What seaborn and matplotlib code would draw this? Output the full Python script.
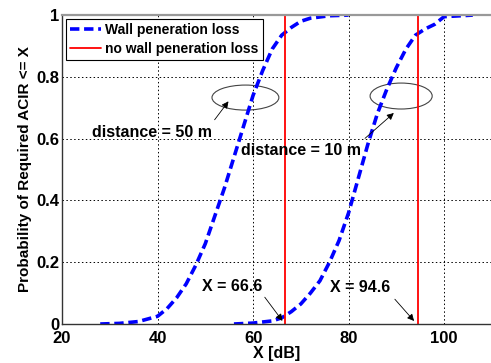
import matplotlib
matplotlib.use("Agg")
import matplotlib.pyplot as plt
import seaborn as sns
import pandas as pd
from matplotlib.patches import Ellipse

# CDF of required ACIR, distance = 50 m
x_50m = [28, 32, 36, 40, 42, 44, 46, 48, 50, 52, 54, 56, 58, 60, 62, 64, 66, 68, 70, 72, 76, 80]
p_50m = [0.0, 0.002, 0.008, 0.025, 0.05, 0.085, 0.13, 0.19, 0.26, 0.35, 0.44, 0.54, 0.64,
         0.74, 0.82, 0.89, 0.935, 0.96, 0.98, 0.99, 0.998, 1.0]

# CDF of required ACIR, distance = 10 m
x_10m = [56, 60, 64, 66, 68, 70, 72, 74, 76, 78, 80, 82, 84, 86, 88, 90, 92, 94, 96, 98, 100, 106]
p_10m = [0.0, 0.003, 0.01, 0.02, 0.04, 0.065, 0.1, 0.14, 0.2, 0.27, 0.36, 0.47, 0.58, 0.68,
         0.76, 0.83, 0.89, 0.935, 0.955, 0.97, 0.995, 1.0]

# Required ACIR without wall penetration loss
no_wall_x = [66.6, 94.6]

xticks = [20, 40, 60, 80, 100]
yticks = [0, 0.2, 0.4, 0.6, 0.8, 1]

sns.set_theme(style="white")
plt.rcParams["font.family"] = ["Liberation Sans", "DejaVu Sans"]
plt.rcParams["font.weight"] = "bold"
plt.rcParams["text.color"] = "black"
plt.rcParams["axes.labelcolor"] = "black"

fig = plt.figure(figsize=(4.91, 3.63), dpi=100)
ax = fig.add_axes([0.1263, 0.1074, 0.8755, 0.851])

df50 = pd.DataFrame({"x": x_50m, "p": p_50m})
df10 = pd.DataFrame({"x": x_10m, "p": p_10m})

sns.lineplot(data=df50, x="x", y="p", ax=ax, color="#0000ff", lw=2.6,
             dashes=False, label="Wall peneration loss")
sns.lineplot(data=df10, x="x", y="p", ax=ax, color="#0000ff", lw=2.6,
             dashes=False, legend=False)
for ln in ax.lines:
    ln.set_dashes((2.6, 1.3))

for i, xv in enumerate(no_wall_x):
    ax.axvline(xv, color="#ff0000", lw=1.3,
               label="no wall peneration loss" if i == 0 else None)

ax.set_xlim(20, 110)
ax.set_ylim(0, 1)
ax.set_xticks(xticks)
ax.set_yticks(yticks)
ax.set_yticklabels(["0", "0.2", "0.4", "0.6", "0.8", "1"])
ax.grid(True, color="black", linestyle=(0, (1.5, 2.5)), lw=0.7)
ax.tick_params(direction="in", length=4, width=0.8, colors="#333333",
               labelsize=12, labelcolor="black", pad=2)
ax.tick_params(axis="x", pad=5)
for lab in ax.get_xticklabels() + ax.get_yticklabels():
    lab.set_fontweight("bold")

ax.set_xlabel("X [dB]", fontsize=11.5, fontweight="bold", labelpad=0)
ax.set_ylabel("Probability of Required ACIR <= X", fontsize=11, fontweight="bold", labelpad=3)

for side in ["left", "bottom"]:
    ax.spines[side].set_color("#333333")
    ax.spines[side].set_linewidth(1.0)
ax.spines["top"].set_color("#999999")
ax.spines["top"].set_linewidth(1.6)
ax.spines["right"].set_color("#999999")

# ellipses grouping the curves
ax.add_patch(Ellipse((58.4, 0.733), 14.0, 0.081, fill=False, edgecolor="#444444", lw=0.8))
ax.add_patch(Ellipse((91.0, 0.738), 13.0, 0.084, fill=False, edgecolor="#444444", lw=0.8))

arrow = dict(arrowstyle="-|>", color="black", lw=0.6, mutation_scale=10)
ann_font = dict(fontsize=11.5, fontweight="bold", ha="center", va="center", color="black")
ax.text(38.8, 0.621, "distance = 50 m", **ann_font)
ax.annotate("", xy=(55.2, 0.728), xytext=(51.6, 0.654), arrowprops=arrow)
ax.text(70.0, 0.563, "distance = 10 m", **ann_font)
ax.annotate("", xy=(89.9, 0.689), xytext=(83.0, 0.595), arrowprops=arrow)
ax.text(55.6, 0.12, "X = 66.6", **ann_font)
ax.annotate("", xy=(66.5, 0.003), xytext=(62.1, 0.094), arrowprops=arrow)
ax.text(82.4, 0.117, "X = 94.6", **ann_font)
ax.annotate("", xy=(94.1, 0.003), xytext=(89.3, 0.087), arrowprops=arrow)

leg = ax.legend(loc="upper left", bbox_to_anchor=(0.010, 0.988), fancybox=False,
                edgecolor="black", framealpha=1, prop={"weight": "bold", "size": 10},
                handlelength=2.2, handletextpad=0.3, borderpad=0.3, labelspacing=0.35,
                borderaxespad=0)
leg.get_frame().set_linewidth(0.8)
leg.legend_handles[0].set_dashes((2.6, 1.3))
for t in leg.get_texts():
    t.set_color("black")

fig.savefig("out.png", dpi=100)
